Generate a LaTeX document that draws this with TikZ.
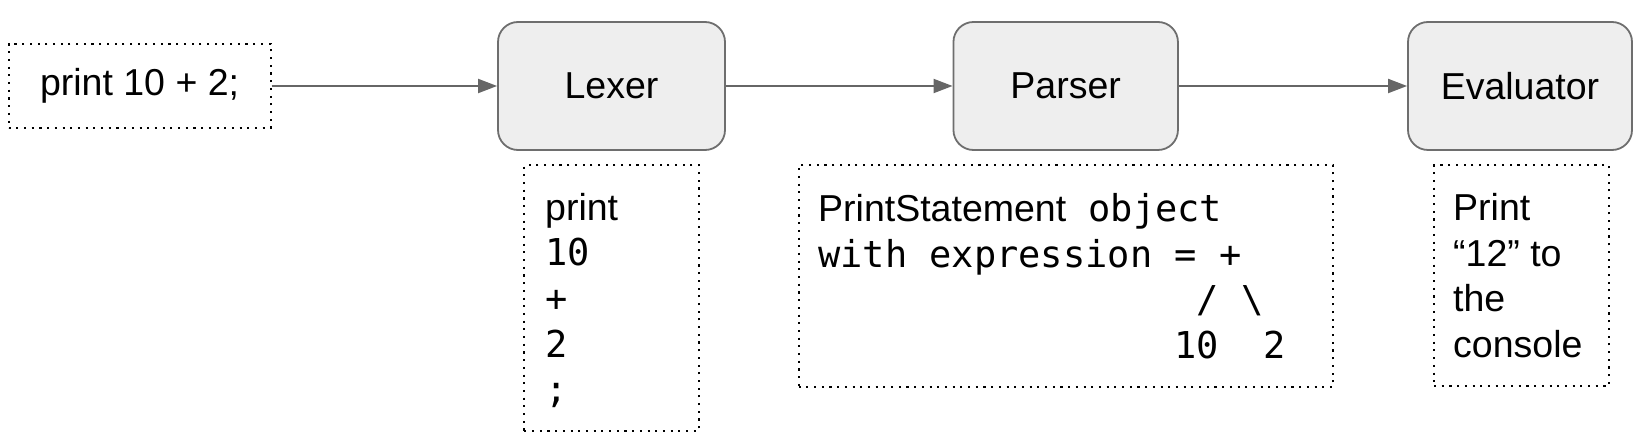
\documentclass[tikz,border=0pt]{standalone}
\usepackage{fontspec}
\setmainfont{Liberation Sans}
\newfontfamily\monof{DejaVu Sans Mono}
\usetikzlibrary{arrows.meta}
\definecolor{boxfill}{HTML}{EEEEEE}
\definecolor{boxline}{HTML}{6E6E6E}
\definecolor{arrowc}{HTML}{666666}
\newcommand{\mtxt}[1]{{\monof\fontsize{37}{45.6}\selectfont #1}}
\newcommand{\firststrut}{\rule{0pt}{31pt}}
\begin{document}
\begin{tikzpicture}[x=1pt,y=-1pt,
  every node/.style={font=\fontsize{37.5}{45.6}\selectfont},
  stage/.style={draw=boxline, fill=boxfill, line width=1.8pt, rounded corners=20pt, inner sep=0pt},
  dotbox/.style={draw=black, line width=2.1pt, dash pattern=on 2.1pt off 5.6pt, inner sep=0pt},
  txt/.style={anchor=north west, inner sep=0pt, align=left},
  flow/.style={draw=arrowc, line width=2pt, -{Triangle[length=19pt,width=14pt]}}]
\useasboundingbox (0,0) rectangle (1652,446);

\node[dotbox, minimum width=262pt, minimum height=84.5pt] (input) at (139.6,86) {print 10 + 2;};
\node[stage, minimum width=227pt, minimum height=128pt] (lexer) at (611.5,86) {Lexer};
\node[stage, minimum width=224.5pt, minimum height=128pt] (parser) at (1065.7,86) {Parser};
\node[stage, minimum width=224pt, minimum height=128pt] (eval) at (1520,86) {Evaluator};

\node[dotbox, minimum width=174.7pt, minimum height=265.3pt] (lexout) at (611.7,298) {};
\node[txt] (lexouttxt) at (545,189) {\firststrut print\\\mtxt{10}\\\mtxt{+}\\\mtxt{2}\\\mtxt{;}};

\node[dotbox, minimum width=534.7pt, minimum height=221.3pt] (parseout) at (1066,276) {};
\node[txt] (parseouttxt) at (818,190.5) {\firststrut PrintStatement\mtxt{\ object}\\\mtxt{with expression = +}\\\mtxt{\hphantom{00000000000000000}/ \textbackslash}\\\mtxt{\hphantom{0000000000000000}10\ \ 2}};

\node[dotbox, minimum width=175pt, minimum height=220.6pt] (evalout) at (1521.5,275.7) {};
\node[txt] (evalouttxt) at (1453,189.5) {\firststrut Print\\“12” to\\the\\console};

\draw[flow] (input.east) -- (lexer.west);
\draw[flow] (lexer.east) -- (parser.west);
\draw[flow] (parser.east) -- (eval.west);
\end{tikzpicture}
\end{document}
